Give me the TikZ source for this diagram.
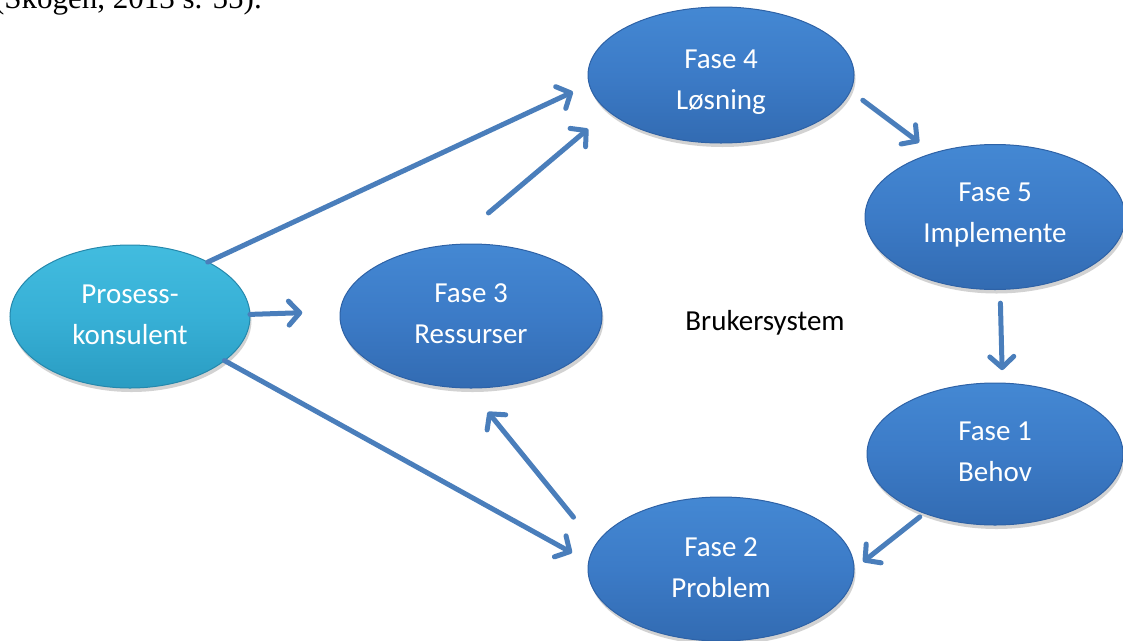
\documentclass[tikz,border=0pt]{standalone}
\usepackage{fontspec}
\setmainfont{Carlito}
\newfontfamily\refserif{Liberation Serif}
\usetikzlibrary{arrows.meta,shapes.geometric,shadows}
\definecolor{fasetop}{HTML}{4488D3}
\definecolor{fasemid}{HTML}{3C7BC7}
\definecolor{fasebot}{HTML}{326BB2}
\definecolor{faserim}{HTML}{2E62A6}
\definecolor{cyantop}{HTML}{42BCDF}
\definecolor{cyanmid}{HTML}{37B0D6}
\definecolor{cyanbot}{HTML}{2A9CC2}
\definecolor{cyanrim}{HTML}{2588AC}
\definecolor{arrowblue}{HTML}{4A7EBB}
\newsavebox{\linesbox}
\newcommand{\twolines}[3]{\sbox{\linesbox}{\begin{tabular}{@{}c@{}}#2\\#3\end{tabular}}\raisebox{#1}[\ht\linesbox][\dp\linesbox]{\usebox{\linesbox}}}
\begin{document}
\begin{tikzpicture}[x=1pt,y=-1pt,
  bubble/.style={ellipse, inner sep=0pt, outer sep=0pt, text=white, align=center,
    font=\fontsize{29}{41}\selectfont, line width=1pt,
    drop shadow={shadow xshift=1.5pt, shadow yshift=-4pt, opacity=0.25, fill=black!70}},
  fase/.style={bubble, top color=fasetop, bottom color=fasebot, middle color=fasemid, draw=faserim},
  konsulent/.style={bubble, top color=cyantop, bottom color=cyanbot, middle color=cyanmid, draw=cyanrim},
  conn/.style={draw=arrowblue, line width=5pt, line cap=round, line join=round,
    -{Straight Barb[length=11pt,width=24pt,line cap=round,line join=round]}},
  plain/.style={font=\fontsize{29}{41}\selectfont, text=black, inner sep=0pt}
]
\useasboundingbox (0,0) rectangle (1123,640);
\clip (0,0) rectangle (1123,640);

\node[font=\refserif\fontsize{31}{36}\selectfont, anchor=base east, inner sep=0pt] (cite) at (262,8) {(Skogen, 2013 s. 55).};

\node[konsulent, minimum width=240pt, minimum height=143pt] (pk) at (130,316.5) {\twolines{1pt}{Prosess-}{konsulent}};
\node[fase, minimum width=262pt, minimum height=144pt] (f3) at (471,316) {\twolines{1pt}{Fase 3}{Ressurser}};
\node[fase, minimum width=266pt, minimum height=136pt] (f4) at (721,75) {\twolines{-5.5pt}{Fase 4}{Løsning}};
\node[fase, minimum width=260pt, minimum height=145pt] (f5) at (995,217) {\twolines{3pt}{Fase 5}{Implemente}};
\node[fase, minimum width=256pt, minimum height=142pt] (f1) at (995,454) {\twolines{1.5pt}{Fase 1}{Behov}};
\node[fase, minimum width=266pt, minimum height=144pt] (f2) at (721,569) {\twolines{0.5pt}{Fase 2}{Problem}};
\node[plain] (bs) at (765,323) {Brukersystem};

\draw[conn, shorten >=18pt] (pk.35) -- (f4.184);
\draw[conn, shorten >=38pt] (pk.1.5) -- (f3.178.5);
\draw[conn, shorten >=19pt] (pk.-25) -- (f2.177.1);
\draw[conn, shorten <=49.5pt, shorten >=27pt] (f3.106.4) -- (f4.198);
\draw[conn, shorten <=35.4pt, shorten >=30.8pt] (f2.169.5) -- (f3.268.2);
\draw[conn, shorten <=15.6pt, shorten >=17.8pt] (f4.-7.9) -- (f5.134.6);
\draw[conn, shorten <=13.7pt, shorten >=13pt] (f5.-86) -- (f1.84.4);
\draw[conn, shorten <=5.9pt, shorten >=11.6pt] (f1.220.1) -- (f2.-0.56);
\end{tikzpicture}
\end{document}
